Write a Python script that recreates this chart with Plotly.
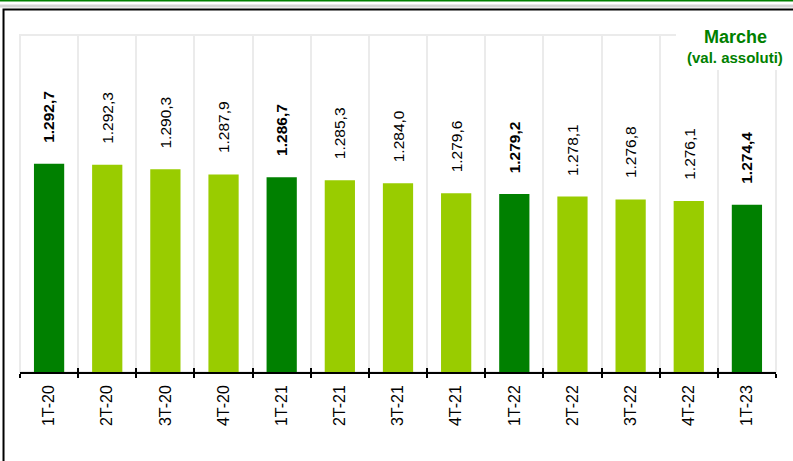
import plotly.graph_objects as go

quarters = ["1T-20", "2T-20", "3T-20", "4T-20", "1T-21", "2T-21", "3T-21",
            "4T-21", "1T-22", "2T-22", "3T-22", "4T-22", "1T-23"]
values = [1292.7, 1292.3, 1290.3, 1287.9, 1286.7, 1285.3, 1284.0,
          1279.6, 1279.2, 1278.1, 1276.8, 1276.1, 1274.4]

DARK = "#008000"
LIGHT = "#99CC00"
GRID = "#EBEBEB"
FONT = "Liberation Sans, Arial, sans-serif"


def it_fmt(v):
    s = f"{v:,.1f}"
    return s.replace(",", "X").replace(".", ",").replace("X", ".")


colors = [DARK if q.startswith("1T") else LIGHT for q in quarters]
labels = [f"<b>{it_fmt(v)}</b>" if q.startswith("1T") else it_fmt(v)
          for q, v in zip(quarters, values)]

fig = go.Figure()
fig.add_trace(go.Bar(x=quarters, y=values, marker_color=colors,
                     marker_line_width=0, hoverinfo="x+y", showlegend=False))
fig.add_trace(go.Scatter(x=quarters, y=values, mode="markers",
                         marker=dict(opacity=0), xaxis="x2",
                         hoverinfo="skip", showlegend=False))

annotations = []
for q, v, t in zip(quarters, values, labels):
    annotations.append(dict(x=q, y=v, text=t, textangle=-90, yanchor="bottom",
                            xanchor="center", yshift=19, showarrow=False,
                            font=dict(family=FONT, size=15.5, color="#000000")))

annotations.append(dict(xref="paper", yref="paper", x=0.9458, y=0.994,
                        text="<b>Marche</b>", showarrow=False,
                        xanchor="center", yanchor="middle",
                        font=dict(family=FONT, size=18, color=DARK)))
annotations.append(dict(xref="paper", yref="paper", x=0.9458, y=0.9318,
                        text="<b>(val. assoluti)</b>", showarrow=False,
                        xanchor="center", yanchor="middle",
                        font=dict(family=FONT, size=15, color=DARK)))

shapes = [
    # plot-area border (light gray)
    dict(type="rect", xref="paper", yref="paper", x0=0, x1=1, y0=0, y1=1,
         line=dict(color=GRID, width=2), layer="below"),
    # white box behind the title
    dict(type="rect", xref="paper", yref="paper", x0=0.8677, x1=1.05,
         y0=0.896, y1=1.01, fillcolor="white", line_width=0, layer="above"),
    # top green rule
    dict(type="line", xref="paper", yref="paper", x0=-0.05, x1=1.05,
         y0=1.1024, y1=1.1024, line=dict(color=DARK, width=2)),
    # light gray rule
    dict(type="line", xref="paper", yref="paper", x0=-0.05, x1=1.05,
         y0=1.086, y1=1.086, line=dict(color="#D4D4D4", width=3)),
    # black frame
    dict(type="rect", xref="paper", yref="paper", x0=-0.0218, x1=1.1,
         y0=-0.4, y1=1.0757, line=dict(color="black", width=2)),
]

fig.update_layout(
    width=793, height=461,
    margin=dict(l=20, r=17, t=35, b=89),
    paper_bgcolor="white", plot_bgcolor="white",
    bargap=0.48,
    font=dict(family=FONT, size=15, color="#000000"),
    xaxis=dict(type="category", tickson="boundaries", ticks="outside",
               ticklen=4, tickwidth=1.5, tickcolor="black",
               range=[-0.5, len(quarters) - 0.5], autorange=False,
               showline=True, linecolor="black", linewidth=1.5,
               showgrid=True, gridcolor=GRID, gridwidth=2,
               tickangle=-90, ticklabelstandoff=5,
               tickfont=dict(family=FONT, size=16, color="#000"),
               categoryorder="array", categoryarray=quarters),
    xaxis2=dict(type="category", overlaying="x", anchor="y", matches="x",
                tickson="boundaries", ticks="inside", ticklen=4,
                tickwidth=1.5, tickcolor="black", showticklabels=False,
                showgrid=False, showline=False, zeroline=False,
                categoryorder="array", categoryarray=quarters),
    yaxis=dict(range=[1200, 1350], showgrid=False, showticklabels=False,
               zeroline=False, showline=False, ticks=""),
    annotations=annotations,
    shapes=shapes,
)

fig.write_html("out.html",
               config={"displayModeBar": False},
               post_script="document.body.style.margin='0';"
                           "document.body.style.overflow='hidden';")
